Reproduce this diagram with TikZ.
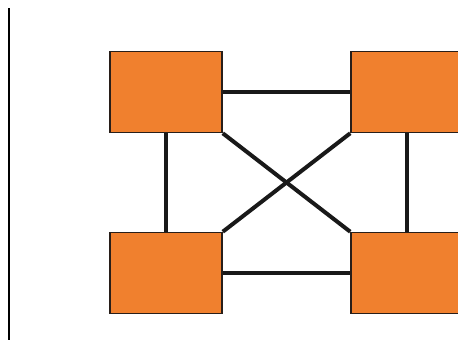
\documentclass[tikz,border=0pt]{standalone}
\usetikzlibrary{backgrounds}
\definecolor{boxorange}{RGB}{240,128,46}
\definecolor{boxedge}{RGB}{40,30,25}
\begin{document}
\begin{tikzpicture}[x=1pt,y=-1pt,
    site/.style={rectangle,draw=boxedge,line width=1.5pt,fill=boxorange,
      minimum width=112pt,minimum height=81pt,inner sep=0pt},
    link/.style={line width=4pt,draw=black!90}]
      \useasboundingbox (0,0) rectangle (458,356);
      \clip (0,0) rectangle (458,356);

      % SITES
      \node[site] (s1) at (166,92)  {};  % top left
      \node[site] (s2) at (407,92)  {};  % top right
      \node[site] (s3) at (166,273) {};  % bottom left
      \node[site] (s4) at (407,273) {};  % bottom right

      % MARGIN RULE
      \coordinate (r1) at (9,8);
      \coordinate (r2) at (9,340);
      \draw[line width=1.2pt] (r1) -- (r2);

      % LINKS
      \begin{scope}[on background layer]
      \draw[link] (s1.east) -- (s2.west);
      \draw[link] (s3.east) -- (s4.west);
      \draw[link] (s1.south) -- (s3.north);
      \draw[link] (s2.south) -- (s4.north);
      \draw[link] (s1.south east) -- (s4.north west);
      \draw[link] (s2.south west) -- (s3.north east);
      \end{scope}

\end{tikzpicture}
\end{document}
